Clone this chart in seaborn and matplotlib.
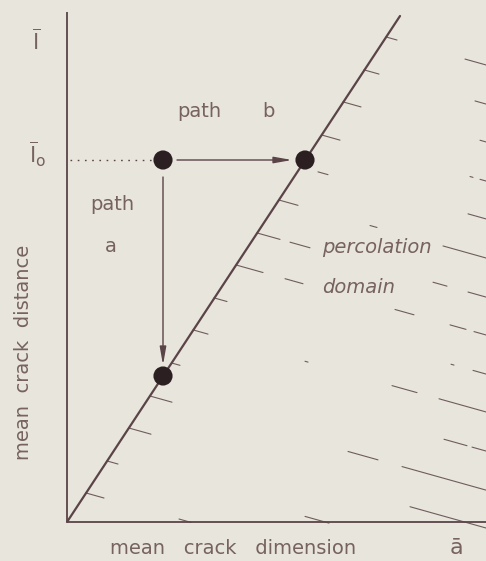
import matplotlib
matplotlib.use("Agg")
import matplotlib.pyplot as plt
import seaborn as sns
import pandas as pd

# crack states: (mean crack dimension, mean crack distance)
state_x = [0.96, 2.38, 0.96]
state_y = [3.62, 3.62, 1.46]

# percolation threshold
threshold_x = [0.0, 3.33]
threshold_y = [0.0, 5.06]

# hatching of the percolation domain: each hatch line starts on the threshold at hatch_y0
hatch_y0 = [4.85, 4.52, 4.20, 3.87, 3.55, 3.22, 2.89, 2.57, 2.24, 1.92, 1.59, 1.26, 0.94, 0.61, 0.29]
hatch_slope = -0.28
# visible bits of every hatch line (x ranges), the rest is faded in the print
hatch_pieces = [
    [(3.19, 3.30), (3.98, 4.19)],
    [(2.97, 3.12), (4.08, 4.19)],
    [(2.76, 2.94), (4.13, 4.19)],
    [(2.55, 2.73), (4.03, 4.06), (4.13, 4.19)],
    [(2.51, 2.61), (4.01, 4.19)],
    [(2.12, 2.31), (3.03, 3.10), (3.76, 4.19)],
    [(1.90, 2.13), (2.23, 2.43), (3.66, 3.80), (4.01, 4.19)],
    [(1.69, 1.96), (2.18, 2.36), (3.28, 3.47), (3.83, 3.99), (4.07, 4.19)],
    [(1.47, 1.60), (3.84, 3.87), (4.06, 4.19)],
    [(1.26, 1.41), (2.38, 2.41), (3.25, 3.50), (3.72, 4.19)],
    [(1.05, 1.13), (3.77, 4.00), (4.05, 4.19)],
    [(0.83, 1.05), (2.81, 3.11), (3.35, 4.19)],
    [(0.62, 0.84), (3.43, 4.19)],
    [(0.40, 0.51), (2.38, 2.62)],
    [(0.19, 0.37), (1.12, 1.24)],
]

paper = "#e8e5dc"
ink = "#5a4447"
text_ink = "#76625f"

sns.set_theme(style="white")
plt.rcParams["font.family"] = ["DejaVu Sans"]
plt.rcParams["mathtext.fontset"] = "dejavusans"

fig = plt.figure(figsize=(4.86, 5.61), dpi=100, facecolor=paper)
ax = fig.add_axes([0, 0, 1, 1])
ax.set_facecolor(paper)
ax.set_xlim(-0.67, 4.19)
ax.set_ylim(-0.39, 5.22)
ax.axis("off")

# axes of the diagram
ax.plot([0, 0], [0, 5.10], color=ink, lw=1.3, solid_capstyle="butt")
ax.plot([0, 4.3], [0, 0], color=ink, lw=1.3, solid_capstyle="butt")

# threshold line
thr = pd.DataFrame({"a": threshold_x, "l": threshold_y})
sns.lineplot(data=thr, x="a", y="l", color=ink, lw=1.6, ax=ax)

# hatching
for y0, pieces in zip(hatch_y0, hatch_pieces):
    x0 = y0 * threshold_x[1] / threshold_y[1]
    for xa, xb in pieces:
        ya = y0 + hatch_slope * (xa - x0)
        yb = y0 + hatch_slope * (xb - x0)
        ax.plot([xa, xb], [ya, yb], color=ink, lw=0.8, alpha=0.85)

# dotted guide to l0
ax.plot([0.03, 0.88], [state_y[0], state_y[0]], color=ink, lw=1.0,
        linestyle=(0, (1.2, 4)))

# paths a and b
arrow = dict(arrowstyle="-|>,head_length=0.9,head_width=0.16", color=ink,
             lw=1.0, shrinkA=0, shrinkB=0)
ax.annotate("", xy=(2.25, state_y[1]), xytext=(1.10, state_y[0]), arrowprops=arrow)
ax.annotate("", xy=(state_x[2], 1.57), xytext=(state_x[0], 3.45), arrowprops=arrow)

# states
pts = pd.DataFrame({"a": state_x, "l": state_y})
sns.scatterplot(data=pts, x="a", y="l", s=190, color="#2b1f22", edgecolor="none",
                zorder=5, ax=ax)

fs = 14
ax.text(1.10, 4.05, "path", fontsize=fs, color=text_ink, ha="left", va="baseline")
ax.text(1.95, 4.05, "b", fontsize=fs, color=text_ink, ha="left", va="baseline")
ax.text(0.23, 3.12, "path", fontsize=fs, color=text_ink, ha="left", va="baseline")
ax.text(0.38, 2.70, "a", fontsize=fs, color=text_ink, ha="left", va="baseline")
ax.text(2.55, 2.69, "percolation", fontsize=fs, color=text_ink, ha="left",
        va="baseline", style="italic")
ax.text(2.55, 2.29, "domain", fontsize=fs, color=text_ink, ha="left",
        va="baseline", style="italic")

ax.text(0.43, -0.26, "mean   crack   dimension", fontsize=fs, color=text_ink,
        ha="left", va="center")
ax.text(3.89, -0.26, "ā", fontsize=fs + 2, color=text_ink, ha="center", va="center")
ax.text(-0.43, 1.70, "mean  crack  distance", fontsize=fs, color=text_ink,
        ha="center", va="center", rotation=90)
ax.text(-0.31, 4.72, r"$\overline{\mathrm{l}}$", fontsize=fs + 2, color=text_ink,
        ha="center", va="baseline")
ax.text(-0.29, 3.59, r"$\overline{\mathrm{l}}_{\mathrm{o}}$", fontsize=fs + 2,
        color=text_ink, ha="center", va="baseline")

fig.savefig("out.png", dpi=100, facecolor=paper)
